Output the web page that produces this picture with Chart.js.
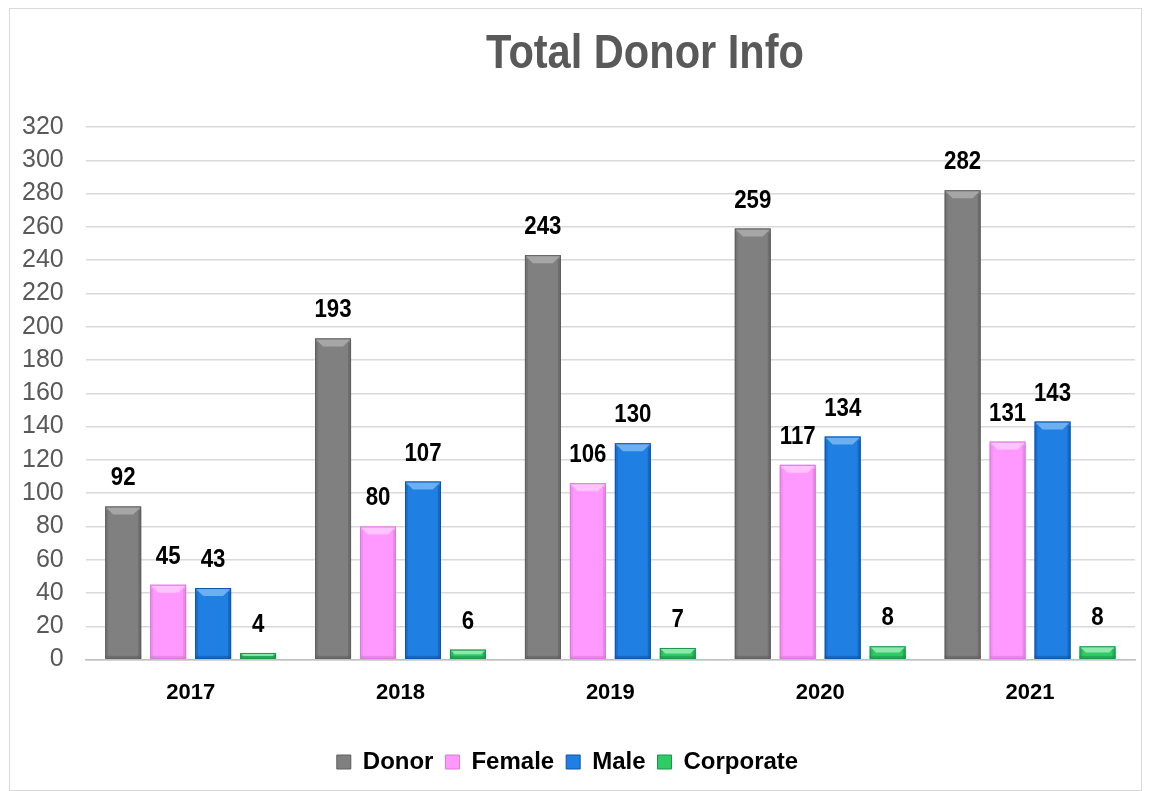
<!DOCTYPE html>
<html>
<head>
<meta charset="utf-8">
<script src="https://cdn.jsdelivr.net/npm/chart.js@4.4.1/dist/chart.umd.min.js"></script>
<style>
  html, body { margin: 0; padding: 0; background: #fff; }
  #wrap { position: relative; width: 1150px; height: 791px; }
  #frame { position: absolute; left: 9px; top: 8px; width: 1131px; height: 781px; border: 1px solid #d9d9d9; }
  canvas { position: absolute; left: 0; top: 0; }
</style>
</head>
<body>
<div id="wrap">
  <div id="frame"></div>
  <canvas id="myChart" width="1150" height="791"></canvas>
</div>
<script>
// data
var years = ['2017', '2018', '2019', '2020', '2021']
var donor = [92, 193, 243, 259, 282]
var female = [45, 80, 106, 117, 131]
var male = [43, 107, 130, 134, 143]
var corporate = [4, 6, 7, 8, 8]
var yTicks = [0, 20, 40, 60, 80, 100, 120, 140, 160, 180, 200, 220, 240, 260, 280, 300, 320]
var chartTitle = 'Total Donor Info'

// fill / bevel / edge colours per series
var looks = [
  { fill: '#808080', light: '#a6a6a6', dark: '#5e5e5e' },
  { fill: '#ff99ff', light: '#ffc4ff', dark: '#d77ad7' },
  { fill: '#1f7fe3', light: '#6cb0f2', dark: '#0d55aa' },
  { fill: '#2fcc66', light: '#8ee8ad', dark: '#1a9447' }
]

const FONT = '"Liberation Sans", Arial, sans-serif'

// condensed title, like the original
const titleDraw = {
  id: 'titleDraw',
  afterDraw(chart) {
    const c = chart.ctx
    c.save()
    c.fillStyle = '#595959'
    c.font = 'bold 48px ' + FONT
    c.textAlign = 'center'
    c.textBaseline = 'alphabetic'
    c.translate(645, 68)
    c.scale(0.866, 1)
    c.fillText(chartTitle, 0, 0)
    c.restore()
  }
}

// values above the bars and a little bevel on each bar
const barExtras = {
  id: 'barExtras',
  afterDatasetsDraw(chart) {
    const c = chart.ctx
    chart.data.datasets.forEach(function (ds, i) {
      const meta = chart.getDatasetMeta(i)
      const look = looks[i]
      meta.data.forEach(function (bar, j) {
        const left = bar.x - bar.width / 2
        const right = bar.x + bar.width / 2
        const top = bar.y
        const bottom = bar.base
        const h = bottom - top
        const b = Math.min(8, h / 2)
        c.save()
        c.fillStyle = look.light
        c.beginPath()
        c.moveTo(left, top)
        c.lineTo(right, top)
        c.lineTo(right - b, top + b)
        c.lineTo(left + b, top + b)
        c.closePath()
        c.fill()
        c.fillStyle = look.dark
        c.globalAlpha = 0.55
        c.fillRect(right - 3, top + b / 2, 3, h - b / 2)
        c.fillRect(left, bottom - 3, right - left, 3)
        c.globalAlpha = 0.35
        c.fillRect(left, top + b / 2, 3, h - b / 2)
        c.globalAlpha = 1
        c.strokeStyle = look.dark
        c.lineWidth = 1
        c.strokeRect(left + 0.5, top + 0.5, right - left - 1, h - 1)

        c.fillStyle = '#000'
        c.font = 'bold 25px ' + FONT
        c.textAlign = 'center'
        c.textBaseline = 'alphabetic'
        c.translate(bar.x, top - 21)
        c.scale(0.89, 1)
        c.fillText(String(ds.data[j]), 0, 0)
        c.restore()
      })
    })
  }
}

const ctx = document.getElementById('myChart')

new Chart(ctx, {
  type: 'bar',
  data: {
    labels: years,
    datasets: [
      { label: 'Donor', data: donor },
      { label: 'Female', data: female },
      { label: 'Male', data: male },
      { label: 'Corporate', data: corporate }
    ].map(function (d, i) {
      d.backgroundColor = looks[i].fill
      d.borderWidth = 0
      d.categoryPercentage = 0.857
      d.barPercentage = 0.8
      return d
    })
  },
  options: {
    responsive: false,
    animation: false,
    layout: { padding: { left: 0, right: 15, top: 127, bottom: 7 } },
    plugins: {
      title: { display: false },
      legend: {
        position: 'bottom',
        labels: {
          color: '#000',
          boxWidth: 14,
          boxHeight: 14,
          padding: 12,
          font: { family: FONT, size: 24, weight: 'bold' },
          generateLabels: function (chart) {
            return chart.data.datasets.map(function (ds, i) {
              return {
                text: ds.label,
                fillStyle: looks[i].fill,
                strokeStyle: looks[i].dark,
                lineWidth: 1,
                datasetIndex: i
              }
            })
          }
        }
      },
      tooltip: { enabled: false }
    },
    scales: {
      x: {
        grid: { display: false, drawTicks: false },
        border: { color: '#bfbfbf', width: 1.5 },
        afterFit: function (axis) { axis.height += 12 },
        ticks: {
          color: '#000',
          padding: 20,
          font: { family: FONT, size: 22, weight: 'bold' }
        }
      },
      y: {
        min: 0,
        max: 320,
        afterBuildTicks: function (axis) {
          axis.ticks = yTicks.map(function (v) { return { value: v } })
        },
        grid: { color: '#d9d9d9', lineWidth: 1.5, drawTicks: false },
        border: { display: false },
        ticks: {
          color: '#595959',
          padding: 22,
          font: { family: FONT, size: 25 }
        }
      }
    }
  },
  plugins: [barExtras, titleDraw]
});
</script>
</body>
</html>
